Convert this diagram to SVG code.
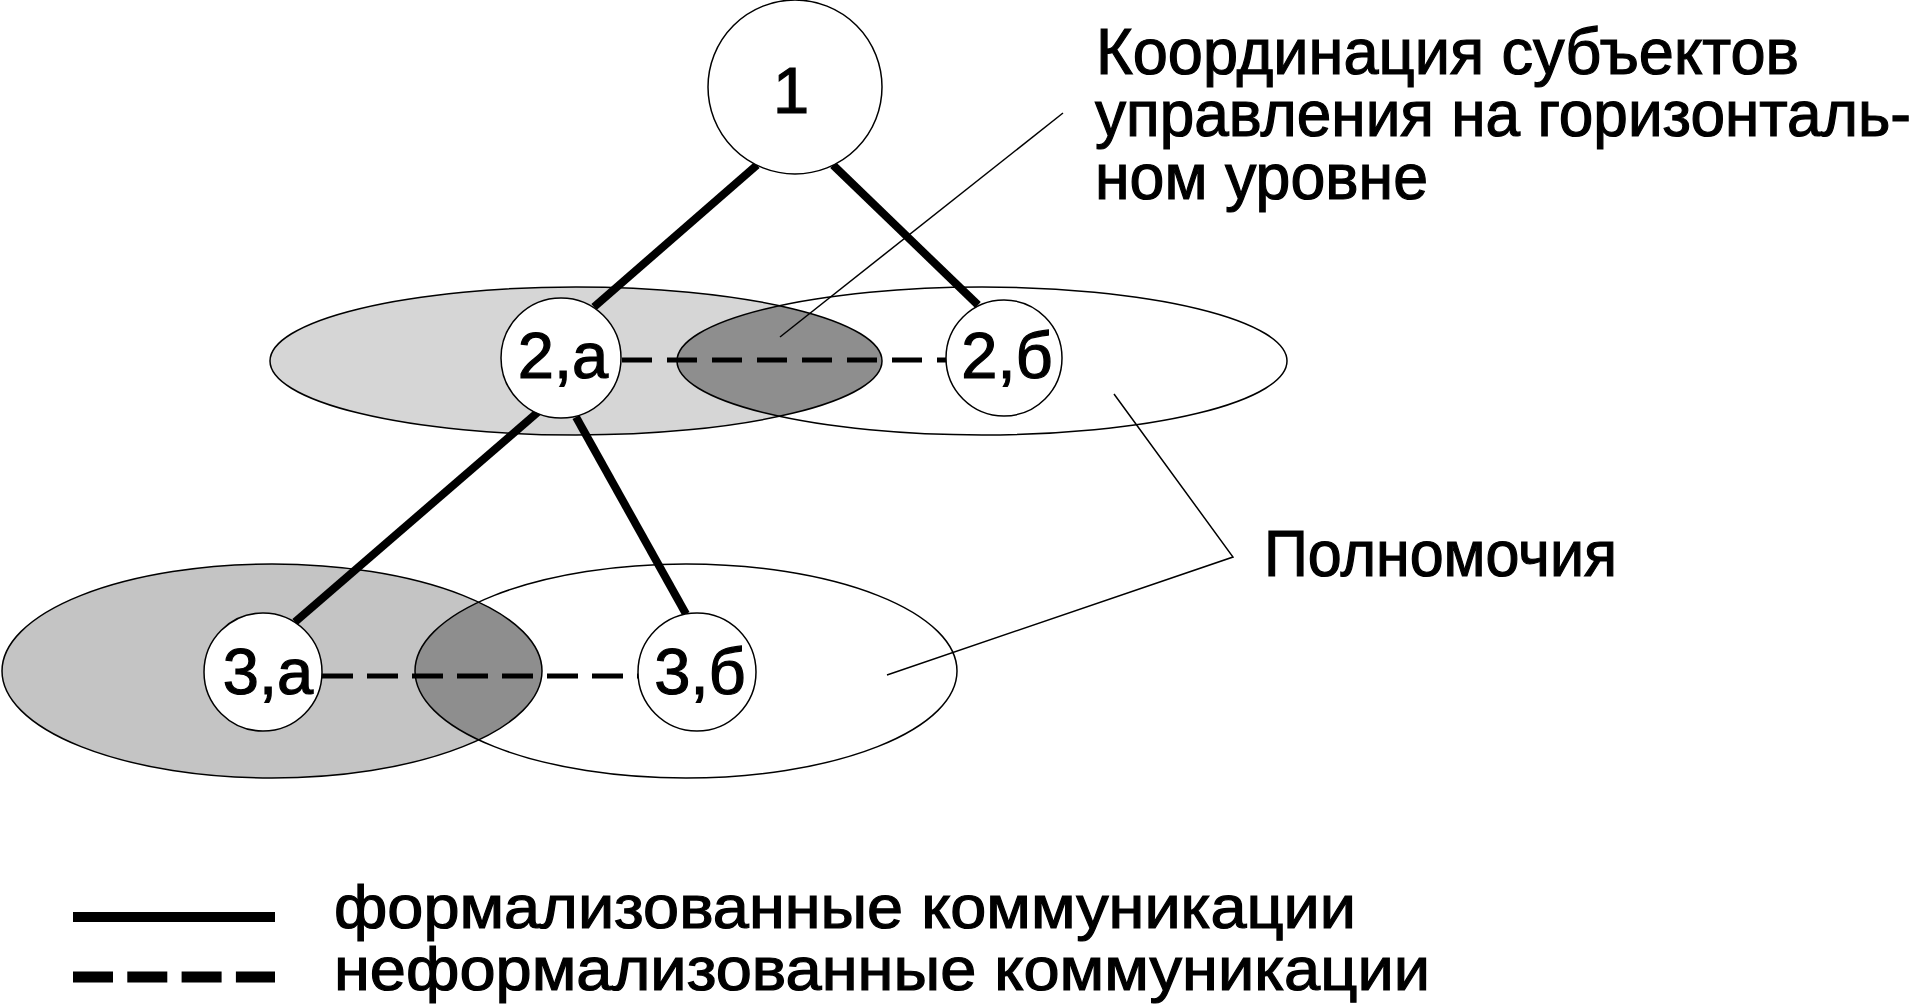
<svg xmlns="http://www.w3.org/2000/svg" width="1925" height="1004" viewBox="0 0 1925 1004">
<style>
  .txt { font-family: "Liberation Sans", Arial, sans-serif; fill: #000; stroke: #000; stroke-width: 1.2; }
  .lbl { font-size: 65px; text-anchor: middle; }
  .hdr { font-size: 65px; }
  .leg { font-size: 62px; }
  .thin { fill: none; stroke: #000; stroke-width: 1.5; }
  .node { fill: #fff; stroke: #000; stroke-width: 1.5; }
  .formal { stroke: #000; stroke-width: 8; stroke-linecap: butt; fill: none; }
  .informal { stroke: #000; stroke-width: 5; stroke-dasharray: 30 15; fill: none; }
  .lightfill { fill: #d6d6d6; }
  .midfill { fill: #c4c4c4; }
  .darkfill { fill: #8e8e8e; }
</style>
<defs>
  <clipPath id="clipUpperLeft"><ellipse cx="576" cy="361" rx="306" ry="74"/></clipPath>
  <clipPath id="clipLowerLeft"><ellipse cx="272" cy="671" rx="270" ry="107"/></clipPath>
</defs>
<rect x="0" y="0" width="1925" height="1004" fill="#fff"/>

<g id="authority-upper">
  <ellipse class="lightfill" cx="576" cy="361" rx="306" ry="74"/>
  <ellipse class="darkfill" cx="982" cy="361" rx="305" ry="74" clip-path="url(#clipUpperLeft)"/>
  <ellipse class="thin" cx="576" cy="361" rx="306" ry="74"/>
  <ellipse class="thin" cx="982" cy="361" rx="305" ry="74"/>
</g>
<g id="authority-lower">
  <ellipse class="midfill" cx="272" cy="671" rx="270" ry="107"/>
  <ellipse class="darkfill" cx="686" cy="671" rx="271" ry="107" clip-path="url(#clipLowerLeft)"/>
  <ellipse class="thin" cx="272" cy="671" rx="270" ry="107"/>
  <ellipse class="thin" cx="686" cy="671" rx="271" ry="107"/>
</g>

<g id="connectors">
  <line class="formal" x1="757" y1="165" x2="594" y2="307"/>
  <line class="formal" x1="833" y1="165" x2="978" y2="305"/>
  <line class="formal" x1="538" y1="412" x2="295" y2="622"/>
  <line class="formal" x1="576" y1="417" x2="686" y2="614"/>
  <line class="informal" x1="622" y1="360" x2="946" y2="360"/>
  <line class="informal" x1="322" y1="676" x2="640" y2="676" style="stroke-dasharray:31 14"/>
</g>

<g id="node-1">
  <circle class="node" cx="795" cy="87" r="87"/>
  <text class="txt lbl" x="791" y="113">1</text>
</g>
<g id="node-2a">
  <circle class="node" cx="561" cy="358" r="60"/>
  <text class="txt lbl" x="563" y="378">2,а</text>
</g>
<g id="node-2b">
  <circle class="node" cx="1004" cy="358" r="58"/>
  <text class="txt lbl" x="1007" y="378">2,б</text>
</g>
<g id="node-3a">
  <circle class="node" cx="263" cy="672" r="59"/>
  <text class="txt lbl" x="268" y="694">3,а</text>
</g>
<g id="node-3b">
  <circle class="node" cx="697" cy="672" r="59"/>
  <text class="txt lbl" x="700" y="694">3,б</text>
</g>

<g id="annotations">
  <polyline class="thin" points="1063,113 780,337"/>
  <polyline class="thin" points="1114,394 1233,557 887,675"/>
  <text class="txt hdr" x="1096" y="74" textLength="703" lengthAdjust="spacingAndGlyphs">Координация субъектов</text>
  <text class="txt hdr" x="1095" y="136" textLength="816" lengthAdjust="spacingAndGlyphs">управления на горизонталь-</text>
  <text class="txt hdr" x="1095" y="199" textLength="333" lengthAdjust="spacingAndGlyphs">ном уровне</text>
  <text class="txt hdr" x="1264" y="576" textLength="353" lengthAdjust="spacingAndGlyphs">Полномочия</text>
</g>

<g id="legend">
  <line class="formal" x1="73" y1="917" x2="275" y2="917" style="stroke-width:10"/>
  <line x1="73" y1="977" x2="275" y2="977" stroke="#000" stroke-width="11" stroke-dasharray="40 14.3"/>
  <text class="txt leg" x="334" y="928" textLength="1022" lengthAdjust="spacingAndGlyphs">формализованные коммуникации</text>
  <text class="txt leg" x="334" y="990" textLength="1096" lengthAdjust="spacingAndGlyphs">неформализованные коммуникации</text>
</g>
</svg>
